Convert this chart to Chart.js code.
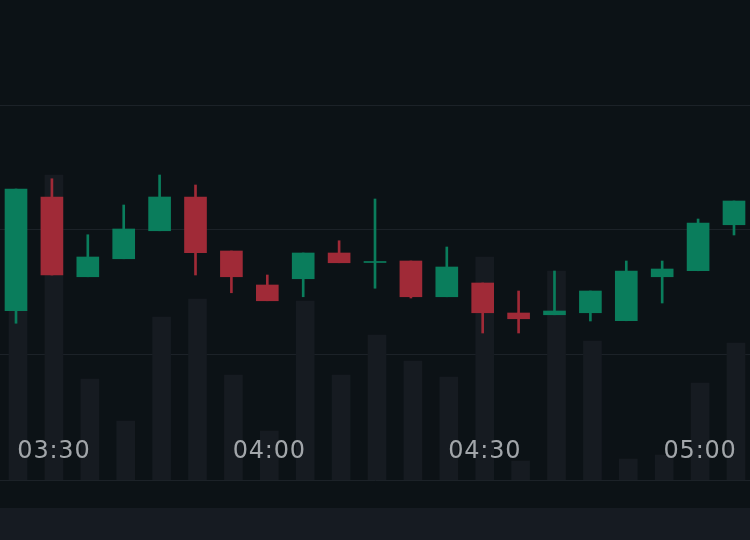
<!DOCTYPE html>
<html>
<head>
<meta charset="utf-8">
<script src="https://cdn.jsdelivr.net/npm/chart.js@4.4.1/dist/chart.umd.min.js"></script>
<style>
  html, body { margin: 0; padding: 0; background: #161b22; }
  #wrap { position: relative; width: 750px; height: 508px; background: #0c1216; }
</style>
</head>
<body>
<div id="wrap"><canvas id="priceChart"></canvas></div>
<script>
// 5 minute candles
const times = ['03:25', '03:30', '03:35', '03:40', '03:45', '03:50', '03:55', '04:00', '04:05', '04:10', '04:15',
               '04:20', '04:25', '04:30', '04:35', '04:40', '04:45', '04:50', '04:55', '05:00', '05:05'];
const opens  = [2367.7, 2413.2, 2381.3, 2388.5, 2399.7, 2413.2, 2391.6, 2378.0, 2380.5, 2390.8, 2387.0,
                2387.6, 2373.3, 2378.8, 2366.8, 2366.1, 2366.9, 2363.7, 2381.3, 2383.7, 2402.1];
const highs  = [2416.4, 2420.5, 2398.1, 2410.0, 2422.0, 2418.0, 2391.6, 2382.0, 2390.8, 2395.7, 2412.4,
                2387.6, 2393.2, 2378.8, 2375.6, 2383.6, 2375.6, 2387.6, 2387.6, 2404.4, 2411.6];
const lows   = [2362.7, 2382.0, 2381.3, 2388.5, 2399.7, 2382.0, 2374.9, 2371.7, 2373.3, 2386.9, 2376.7,
                2372.8, 2373.3, 2358.8, 2358.8, 2366.1, 2363.6, 2363.7, 2370.8, 2383.7, 2398.0];
const closes = [2416.4, 2382.0, 2389.2, 2400.4, 2413.2, 2390.9, 2381.3, 2371.7, 2390.8, 2386.9, 2387.4,
                2373.3, 2385.2, 2366.9, 2364.5, 2367.6, 2375.6, 2383.6, 2384.4, 2402.8, 2411.6];
const volumes = [680, 1220, 404, 236, 652, 724, 420, 196, 716, 420, 580,
                 476, 412, 892, 76, 836, 556, 84, 100, 388, 548];
const priceGrid = [2350, 2400, 2450];

const UP = '#0a7d5c';
const DOWN = '#a02a37';
const candleColors = opens.map((o, i) => closes[i] >= o ? UP : DOWN);
const shownTicks = times.map((t, i) => (t.endsWith(':00') || t.endsWith(':30')) ? i : -1).filter(i => i >= 0);

// time labels are a bit spaced out
const spacedText = {
    id: 'spacedText',
    beforeDraw(chart) { chart.ctx.letterSpacing = '0.8px'; }
};

const ctx = document.getElementById('priceChart').getContext('2d');
new Chart(ctx, {
    type: 'bar',
    data: {
        datasets: [
            {
                label: 'body',
                data: opens.map((o, i) => ({ x: i, y: [o, closes[i]] })),
                backgroundColor: candleColors,
                barThickness: 22,
                grouped: false,
                borderWidth: 0,
                borderSkipped: false,
                order: 1
            },
            {
                label: 'wick',
                data: lows.map((l, i) => ({ x: i, y: [l, highs[i]] })),
                backgroundColor: candleColors,
                barThickness: 2,
                grouped: false,
                borderWidth: 0,
                borderSkipped: false,
                order: 2
            },
            {
                label: 'volume',
                data: volumes.map((v, i) => ({ x: i, y: v })),
                backgroundColor: '#161b21',
                barThickness: 18,
                grouped: false,
                borderWidth: 0,
                xAxisID: 'xv',
                yAxisID: 'yv',
                order: 3
            }
        ]
    },
    options: {
        responsive: true,
        maintainAspectRatio: false,
        animation: false,
        layout: { padding: 0 },
        plugins: { legend: { display: false }, tooltip: { enabled: false } },
        scales: {
            x: {
                type: 'linear',
                display: false,
                offset: false,
                bounds: 'data',
                grid: { offset: false },
                min: -0.446,
                max: 20.446
            },
            // volume + time axis sits ~2px right of the candles
            xv: {
                type: 'linear',
                position: 'bottom',
                offset: false,
                bounds: 'data',
                min: -0.502,
                max: 20.39,
                grid: { display: false, offset: false },
                border: { display: true, color: '#1c2228', width: 1 },
                afterBuildTicks: s => { s.ticks = shownTicks.map(v => ({ value: v })); },
                afterFit: s => { s.height = 28; },
                ticks: {
                    z: 1,
                    autoSkip: false,
                    maxRotation: 0,
                    mirror: true,
                    padding: 14,
                    color: '#a2a6aa',
                    font: { size: 24, family: "'DejaVu Sans', sans-serif" },
                    callback: v => times[v]
                }
            },
            y: {
                position: 'left',
                min: 2300,
                max: 2492,
                afterBuildTicks: s => { s.ticks = priceGrid.map(v => ({ value: v })); },
                afterFit: s => { s.width = 0; },
                grid: { color: '#1c2228', drawTicks: false },
                border: { display: false },
                ticks: { display: false }
            },
            yv: {
                display: false,
                min: 0,
                max: 1920
            }
        }
    },
    plugins: [spacedText]
});
</script>
</body>
</html>
